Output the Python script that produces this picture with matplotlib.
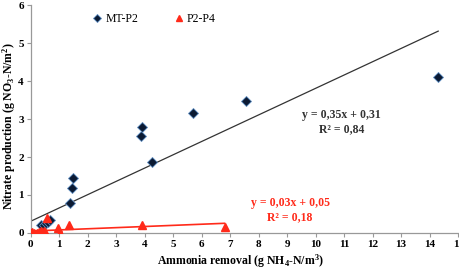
import matplotlib
matplotlib.use('Agg')
import matplotlib.pyplot as plt

# MT-P2 series
mt_x = [0.34, 0.45, 0.55, 0.62, 0.67, 1.39, 1.43, 1.48, 3.85, 3.9, 4.25, 5.7, 7.55, 14.3]
mt_y = [0.21, 0.2, 0.25, 0.3, 0.34, 0.78, 1.18, 1.44, 2.55, 2.78, 1.88, 3.15, 3.47, 4.1]

# P2-P4 series
pp_x = [0.0, 0.05, 0.1, 0.2, 0.3, 0.35, 0.4, 0.45, 0.5, 0.57, 0.96, 1.02, 1.33, 3.9, 6.8]
pp_y = [0.0, 0.02, 0.0, 0.01, 0.03, 0.05, 0.0, 0.04, 0.02, 0.39, 0.12, 0.0, 0.2, 0.21, 0.15]

mt_fit = (0.35, 0.31)
pp_fit = (0.03, 0.05)

plt.rcParams['font.family'] = ['Liberation Serif', 'DejaVu Serif']
plt.rcParams['mathtext.fontset'] = 'custom'
plt.rcParams['mathtext.rm'] = 'Liberation Serif:bold'
plt.rcParams['mathtext.it'] = 'Liberation Serif:bold'
plt.rcParams['mathtext.bf'] = 'Liberation Serif:bold'

fig = plt.figure(figsize=(4.6, 2.69), dpi=100)
ax = fig.add_axes([0.067, 0.134, 0.929, 0.847])

# trend lines
x0, x1 = 0, max(mt_x)
ax.plot([x0, x1], [mt_fit[1] + mt_fit[0] * x0, mt_fit[1] + mt_fit[0] * x1],
        color='#333333', lw=0.9, zorder=2)
x0, x1 = 0, max(pp_x)
ax.plot([x0, x1], [pp_fit[1] + pp_fit[0] * x0, pp_fit[1] + pp_fit[0] * x1],
        color='#ff2a1a', lw=1.2, zorder=2)

ax.plot(mt_x, mt_y, 'D', ms=4.8, color='#0b1a33', mec='#5f8fc4', mew=0.6,
        label='MT-P2', zorder=3)
ax.plot(pp_x, pp_y, '^', ms=6, color='#ff2a1a', mec='#ff2a1a',
        label='P2-P4', zorder=3)

ax.set_xlim(0, 15)
ax.set_ylim(0, 6)
ax.set_xticks(range(0, 16))
ax.set_yticks(range(0, 7))
for lab in ax.get_xticklabels() + ax.get_yticklabels():
    lab.set_fontweight('bold')
    lab.set_fontsize(8)
ax.tick_params(axis='both', length=3, width=0.8, color='#999999', pad=2)

for s in ['top', 'right']:
    ax.spines[s].set_visible(False)
for s in ['left', 'bottom']:
    ax.spines[s].set_color('#999999')
    ax.spines[s].set_linewidth(0.9)

ax.set_xlabel('Ammonia removal (g NH$_4$-N/m$^3$)', fontsize=8.5,
              fontweight='bold', va='center')
ax.set_ylabel('Nitrate production (g NO$_3$-N/m$^2$)', fontsize=8.5,
              fontweight='bold', va='center')
ax.xaxis.set_label_coords(0.49, -0.125)
ax.yaxis.set_label_coords(-0.05, 0.47)

ax.text(10.9, 2.92, 'y = 0,35x + 0,31\nR² = 0,84', ha='center', va='center',
        fontsize=8.5, fontweight='bold', color='#333333', linespacing=1.15)
ax.text(9.1, 0.6, 'y = 0,03x + 0,05\nR² = 0,18', ha='center', va='center',
        fontsize=8.5, fontweight='bold', color='#ff2a1a', linespacing=1.15)

ax.legend(loc='upper left', bbox_to_anchor=(0.12, 1.01), ncol=2, frameon=False,
          fontsize=8.5, handlelength=0.8, handletextpad=0.3, columnspacing=3.0,
          markerscale=0.8)

fig.savefig('out.png', dpi=100)
